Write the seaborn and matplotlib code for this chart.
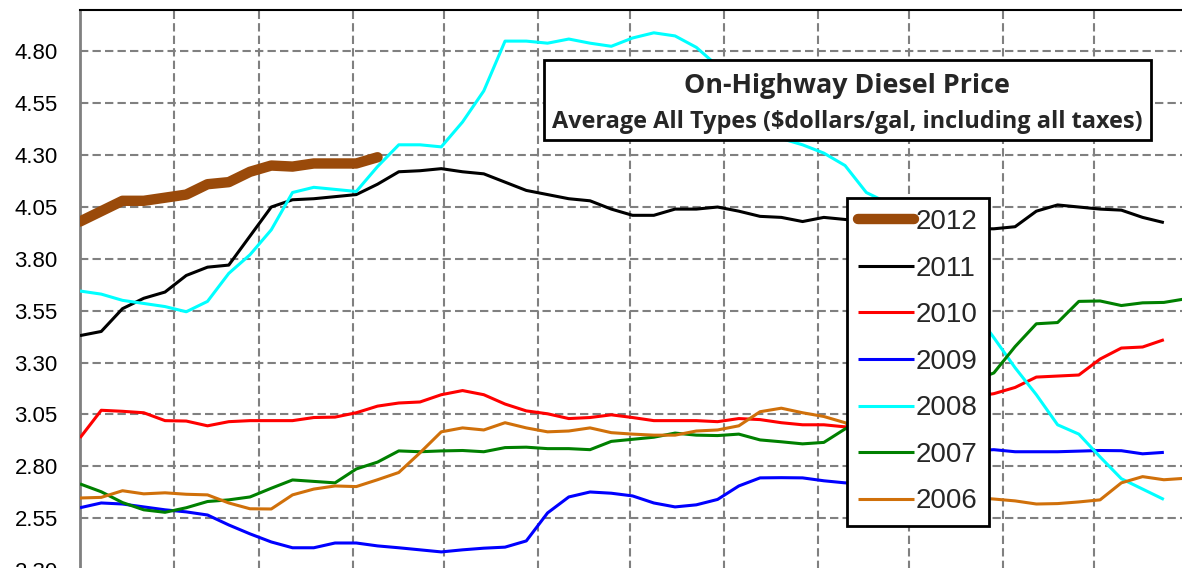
import numpy as np
import pandas as pd
import matplotlib
matplotlib.use('Agg')
import matplotlib.pyplot as plt
from matplotlib.patches import Rectangle
import seaborn as sns

# weekly prices, one point every 7 days from Jan 1
years = ['2012', '2011', '2010', '2009', '2008', '2007', '2006']
p2012 = [3.98, 4.03, 4.08, 4.08, 4.095, 4.11, 4.16, 4.17, 4.22, 4.25, 4.245, 4.26, 4.26, 4.26, 4.29]
p2011 = [3.43, 3.45, 3.56, 3.61, 3.64, 3.72, 3.76, 3.77, 3.91, 4.05,
         4.085, 4.09, 4.10, 4.11, 4.16, 4.22, 4.225, 4.235, 4.22, 4.21,
         4.17, 4.13, 4.11, 4.09, 4.08, 4.04, 4.01, 4.01, 4.04, 4.04,
         4.05, 4.03, 4.005, 4.00, 3.98, 4.00, 3.99, 3.98, 3.97, 3.97,
         3.96, 3.95, 3.945, 3.945, 3.955, 4.03, 4.06, 4.05, 4.04, 4.035,
         4.00, 3.975]
p2010 = [2.937, 3.07, 3.065, 3.058, 3.02, 3.018, 2.995, 3.015, 3.02, 3.02,
         3.02, 3.035, 3.037, 3.058, 3.09, 3.105, 3.11, 3.145, 3.165, 3.145,
         3.10, 3.067, 3.053, 3.03, 3.035, 3.048, 3.035, 3.02, 3.02, 3.02,
         3.015, 3.03, 3.025, 3.01, 3.00, 3.00, 2.99, 2.995, 3.01, 3.04,
         3.07, 3.10, 3.135, 3.15, 3.18, 3.23, 3.235, 3.24, 3.317, 3.37,
         3.375, 3.41]
p2009 = [2.60, 2.623, 2.618, 2.604, 2.59, 2.58, 2.565, 2.517, 2.474, 2.435,
         2.407, 2.407, 2.43, 2.43, 2.416, 2.407, 2.397, 2.387, 2.397, 2.405,
         2.41, 2.44, 2.575, 2.652, 2.676, 2.67, 2.657, 2.623, 2.604, 2.614,
         2.64, 2.705, 2.744, 2.745, 2.744, 2.73, 2.72, 2.715, 2.73, 2.77,
         2.82, 2.86, 2.875, 2.88, 2.87, 2.87, 2.87, 2.873, 2.876, 2.875,
         2.86, 2.867]
p2008 = [3.645, 3.63, 3.60, 3.585, 3.57, 3.545, 3.595, 3.73, 3.82, 3.94,
         4.12, 4.145, 4.135, 4.125, 4.245, 4.35, 4.35, 4.34, 4.46, 4.61,
         4.85, 4.85, 4.84, 4.86, 4.84, 4.825, 4.865, 4.89, 4.875, 4.82,
         4.73, 4.61, 4.50, 4.38, 4.35, 4.31, 4.25, 4.12, 4.07, 3.95,
         3.82, 3.69, 3.56, 3.42, 3.275, 3.145, 3.00, 2.955, 2.845, 2.74,
         2.69, 2.64]
p2007 = [2.715, 2.677, 2.625, 2.59, 2.578, 2.60, 2.63, 2.638, 2.652, 2.694,
         2.734, 2.727, 2.72, 2.787, 2.82, 2.874, 2.87, 2.874, 2.876, 2.87,
         2.89, 2.892, 2.885, 2.885, 2.88, 2.92, 2.93, 2.94, 2.96, 2.95,
         2.948, 2.955, 2.927, 2.918, 2.908, 2.915, 2.98, 3.01, 3.05, 3.09,
         3.13, 3.17, 3.21, 3.25, 3.377, 3.487, 3.493, 3.595, 3.597, 3.575,
         3.588, 3.59, 3.607]
p2006 = [2.647, 2.65, 2.682, 2.667, 2.672, 2.665, 2.662, 2.623, 2.595, 2.594,
         2.662, 2.69, 2.705, 2.702, 2.735, 2.77, 2.865, 2.966, 2.985, 2.975,
         3.01, 2.985, 2.966, 2.97, 2.985, 2.962, 2.955, 2.95, 2.95, 2.97,
         2.975, 2.995, 3.063, 3.08, 3.058, 3.04, 3.01, 2.95, 2.87, 2.79,
         2.72, 2.67, 2.65, 2.642, 2.633, 2.618, 2.62, 2.628, 2.638, 2.72,
         2.75, 2.735, 2.742]
yticks = [2.30, 2.55, 2.80, 3.05, 3.30, 3.55, 3.80, 4.05, 4.30, 4.55, 4.80]
month_starts = [31, 59, 90, 120, 151, 181, 212, 243, 273, 304, 334, 365]

series = [p2012, p2011, p2010, p2009, p2008, p2007, p2006]
colors = ['#9A4A0A', 'black', '#FF0000', '#0000FF', '#00FFFF', '#008000', '#D0700A']
widths = [7.5, 2.2, 2.2, 2.2, 2.2, 2.2, 2.2]
zorders = [10, 3, 4, 5, 6, 7, 8]

sns.set_theme(style='white')
plt.rcParams['font.family'] = ['Liberation Sans', 'DejaVu Sans']

fig = plt.figure(figsize=(11.82, 5.68), dpi=100)
ax = fig.add_axes([80 / 1182, -20 / 568, 1120 / 1182, 578 / 568])

for yr, vals, c, lw, z in zip(years, series, colors, widths, zorders):
    df = pd.DataFrame({'day': np.arange(len(vals)) * 7, 'price': vals})
    sns.lineplot(data=df, x='day', y='price', ax=ax, color=c, linewidth=lw,
                 label=yr, zorder=z,
                 solid_capstyle='round' if yr == '2012' else 'butt')

ax.set_xlim(0, 1120 / 3.036)
ax.set_ylim(2.213, 5.00)
ax.set_xticks(month_starts)
ax.set_yticks(yticks)
ax.set_yticklabels([f'{v:.2f}' for v in yticks])
ax.set_xticklabels([])
ax.set_xlabel('')
ax.set_ylabel('')
ax.tick_params(axis='both', length=0)
ax.tick_params(axis='y', labelsize=16, pad=16, labelcolor='black')
ax.grid(True, color='#808080', linestyle=(0, (4, 2)), linewidth=1.5)
ax.set_axisbelow(True)

ax.spines['left'].set_color('#808080')
ax.spines['left'].set_linewidth(2)
ax.spines['top'].set_color('black')
ax.spines['top'].set_linewidth(1.5)

# title box
title_font = ['Open Sans', 'DejaVu Sans']
ax.add_patch(Rectangle((544 / 1182, 1 - 140 / 568), 607 / 1182, 80 / 568,
                       transform=fig.transFigure, facecolor='white',
                       edgecolor='black', linewidth=2, zorder=20, clip_on=False))
fig.text(847 / 1182, 1 - 86 / 568, 'On-Highway Diesel Price', ha='center',
         va='center', fontsize=19.4, fontweight='bold', family=title_font, zorder=21)
fig.text(847 / 1182, 1 - 122 / 568, 'Average All Types ($dollars/gal, including all taxes)',
         ha='center', va='center', fontsize=16.9, fontweight='bold',
         family=title_font, zorder=21)

leg = ax.legend(loc='upper left', bbox_to_anchor=(847 / 1182, 1 - 198 / 568),
                bbox_transform=fig.transFigure, frameon=True, fancybox=False,
                edgecolor='black', framealpha=1, fontsize=20, handlelength=2.0,
                handletextpad=0.08, labelspacing=0.74, borderpad=0.4,
                borderaxespad=0)
leg.get_frame().set_linewidth(2)
leg.set_zorder(30)

fig.savefig('out.png', dpi=100)
